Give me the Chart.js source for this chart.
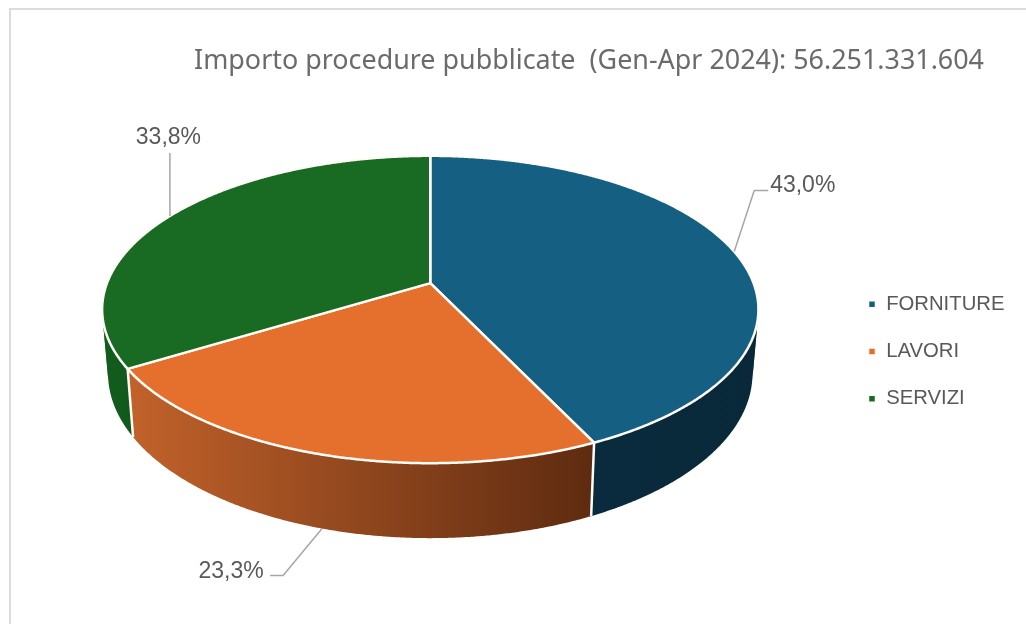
<!DOCTYPE html>
<html lang="it">
<head>
<meta charset="utf-8">
<title>Importo procedure pubblicate</title>
<script src="https://cdn.jsdelivr.net/npm/chart.js@4"></script>
<style>
  html, body { margin: 0; padding: 0; background: #fff; }
  canvas { display: block; }
</style>
</head>
<body>
<canvas id="procedure-chart" width="1026" height="624"></canvas>
<script>
const categories = ["FORNITURE", "LAVORI", "SERVIZI"];
const shares = [43.0, 23.3, 33.8];
const chartTitle = "Importo procedure pubblicate  (Gen-Apr 2024): 56.251.331.604";

const topColors = ["#156082", "#E5702D", "#196B24"];
// side wall colours, left to right
const wallColors = [["#0A2B3D", "#09293A"], ["#C2622B", "#5E2B10"], ["#125C1E", "#115A1C"]];
// leader line bends, relative to the point where the line leaves the pie
const leaderBends = [
  [[20, -61], [34, -61]],
  [[-39, 47], [-52, 47]],
  [[0, -63]],
];
const labelGap = [[34.5, -5], [-39, -4], [-1.5, -15]];

// perspective of the tilted disc, in units of the pie radius
const TILT = -0.1715;
const SCALE_X = 1.58;
const SCALE_Y = 0.729;
const DEPTH = 0.3035;
const BOTTOM_SHRINK = 0.982;

function rimPoint(arc, angle) {
  const w = 1 + TILT * Math.sin(angle);
  return {
    x: arc.x + SCALE_X * arc.outerRadius * Math.cos(angle) / w,
    y: arc.y + SCALE_Y * arc.outerRadius * Math.sin(angle) / w,
  };
}

function bottomPoint(arc, angle) {
  const p = rimPoint(arc, angle);
  const w = 1 + TILT * Math.sin(angle);
  return {
    x: arc.x + (p.x - arc.x) * BOTTOM_SHRINK,
    y: p.y + DEPTH * arc.outerRadius / w,
  };
}

function arcAngles(arc) {
  const steps = Math.ceil((arc.endAngle - arc.startAngle) / 0.005);
  const angles = [];
  for (let i = 0; i <= steps; i++) {
    angles.push(arc.startAngle + (arc.endAngle - arc.startAngle) * i / steps);
  }
  return angles;
}

// fills the strips of one winding direction, so that they add up instead of cancelling
function fillStrips(ctx, top, bottom, direction) {
  ctx.beginPath();
  for (let n = 1; n < top.length; n++) {
    const a = top[n - 1], b = top[n], c = bottom[n], d = bottom[n - 1];
    const area = (b.x - a.x) * (c.y - a.y) - (b.y - a.y) * (c.x - a.x)
      + (c.x - a.x) * (d.y - a.y) - (c.y - a.y) * (d.x - a.x);
    if (area * direction < 0) continue;
    ctx.moveTo(a.x, a.y);
    ctx.lineTo(b.x, b.y);
    ctx.lineTo(c.x, c.y);
    ctx.lineTo(d.x, d.y);
    ctx.closePath();
  }
  ctx.fill();
}

const disc3d = {
  id: "disc3d",
  beforeDraw(chart) {
    // frame of the chart object, open on the right and at the bottom
    const ctx = chart.ctx;
    ctx.save();
    ctx.strokeStyle = "#DCDCDC";
    ctx.lineWidth = 2;
    ctx.beginPath();
    ctx.moveTo(10, 624);
    ctx.lineTo(10, 9);
    ctx.lineTo(1026, 9);
    ctx.stroke();
    ctx.restore();
  },
  afterLayout(chart) {
    chart.titleBlock.right = 984;
    chart.legend.left = 841;
    chart.legend.top = 267;
  },
  beforeDatasetDraw(chart, args) {
    const ctx = chart.ctx;
    const arcs = args.meta.data;
    ctx.save();
    ctx.lineJoin = "round";

    // side walls first, the faces cover whatever is behind them
    arcs.forEach((arc, i) => {
      const angles = arcAngles(arc);
      const top = angles.map((a) => rimPoint(arc, a));
      const bottom = angles.map((a) => bottomPoint(arc, a));
      const front = top.filter((p, n) => Math.sin(angles[n]) > 0);
      const xs = (front.length ? front : top).map((p) => p.x);
      const gradient = ctx.createLinearGradient(Math.min(...xs), 0, Math.max(...xs), 0);
      gradient.addColorStop(0, wallColors[i][0]);
      gradient.addColorStop(1, wallColors[i][1]);
      ctx.fillStyle = gradient;
      fillStrips(ctx, top, bottom, 1);
      fillStrips(ctx, top, bottom, -1);
    });

    // white seams on the front edges between the walls
    arcs.forEach((arc) => {
      if (Math.sin(arc.startAngle) <= 0) return;
      const a = rimPoint(arc, arc.startAngle);
      const b = bottomPoint(arc, arc.startAngle);
      ctx.strokeStyle = arc.options.borderColor;
      ctx.lineWidth = arc.options.borderWidth;
      ctx.beginPath();
      ctx.moveTo(a.x, a.y);
      ctx.lineTo(b.x, b.y);
      ctx.stroke();
    });

    arcs.forEach((arc) => {
      ctx.fillStyle = arc.options.backgroundColor;
      ctx.strokeStyle = arc.options.borderColor;
      ctx.lineWidth = arc.options.borderWidth;
      ctx.beginPath();
      ctx.moveTo(arc.x, arc.y);
      arcAngles(arc).forEach((a) => {
        const p = rimPoint(arc, a);
        ctx.lineTo(p.x, p.y);
      });
      ctx.closePath();
      ctx.fill();
      ctx.stroke();
    });

    // value labels with their leader lines
    ctx.font = '23px "Liberation Sans"';
    ctx.fillStyle = "#595959";
    ctx.textAlign = "center";
    ctx.textBaseline = "middle";
    arcs.forEach((arc, i) => {
      const mid = (arc.startAngle + arc.endAngle) / 2;
      const start = Math.sin(mid) > 0 ? bottomPoint(arc, mid) : rimPoint(arc, mid);
      ctx.strokeStyle = "#A6A6A6";
      ctx.lineWidth = 1.5;
      ctx.beginPath();
      ctx.moveTo(start.x, start.y);
      leaderBends[i].forEach((b) => ctx.lineTo(start.x + b[0], start.y + b[1]));
      ctx.stroke();
      const last = leaderBends[i][leaderBends[i].length - 1];
      const text = shares[i].toFixed(1).replace(".", ",") + "%";
      ctx.fillText(text, start.x + last[0] + labelGap[i][0], start.y + last[1] + labelGap[i][1]);
    });

    ctx.restore();
    return false;
  },
};

new Chart(document.getElementById("procedure-chart"), {
  type: "pie",
  data: {
    labels: categories,
    datasets: [{
      data: shares,
      backgroundColor: topColors,
      borderColor: "#FFFDF8",
      borderWidth: 2.5,
    }],
  },
  options: {
    responsive: false,
    animation: false,
    layout: { padding: { left: 8, bottom: 135 } },
    plugins: {
      tooltip: { enabled: false },
      title: {
        display: true,
        text: chartTitle,
        align: "end",
        color: "#6B6B6B",
        font: { family: '"Noto Sans"', size: 26.9, weight: "normal" },
        padding: { top: 45, bottom: 0 },
      },
      legend: {
        position: "right",
        align: "start",
        labels: {
          color: "#595959",
          font: { family: '"Liberation Sans"', size: 20.3 },
          usePointStyle: true,
          pointStyle: "rect",
          boxWidth: 8,
          boxHeight: 8,
          padding: 27,
        },
      },
    },
  },
  plugins: [disc3d],
});
</script>
</body>
</html>
